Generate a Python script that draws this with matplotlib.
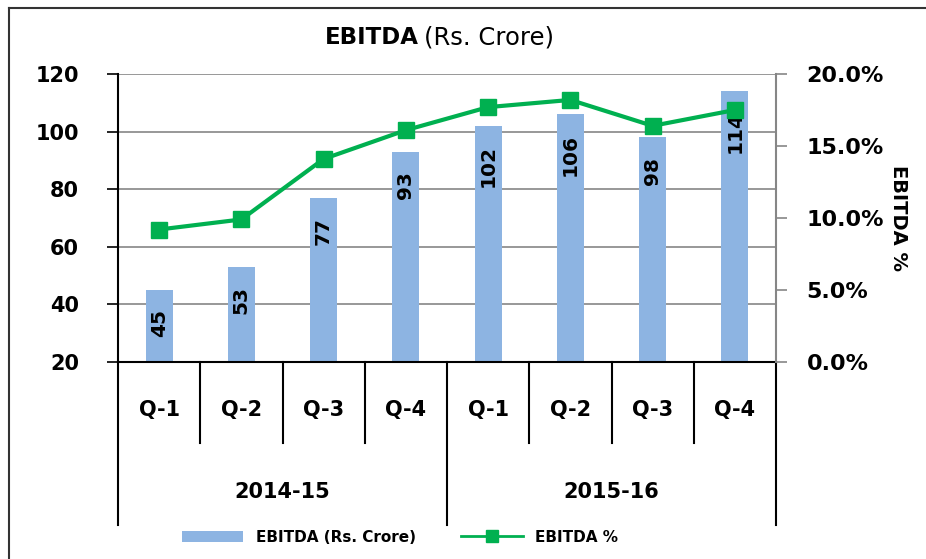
import matplotlib.pyplot as plt
import matplotlib.transforms as mtransforms
from matplotlib.lines import Line2D
from matplotlib.patches import Patch

# valores
trimestres = ["Q-1", "Q-2", "Q-3", "Q-4", "Q-1", "Q-2", "Q-3", "Q-4"]
anos = ["2014-15", "2015-16"]
ebitda = [45, 53, 77, 93, 102, 106, 98, 114]
ebitda_pct = [9.2, 9.9, 14.1, 16.1, 17.7, 18.2, 16.4, 17.5]

cor_barra = "#8DB4E2"
cor_linha = "#00B050"
cinza = "#868686"

plt.rcParams['font.family'] = ['DejaVu Sans']

fig = plt.figure(figsize=(9.26, 5.59), dpi=100)
W, H = 926, 559
ax = fig.add_axes([118 / W, 1 - 362 / H, (776 - 118) / W, (362 - 74) / H])
ax2 = ax.twinx()

x = list(range(len(ebitda)))

# barras
ax.bar(x, ebitda, width=0.33, color=cor_barra, zorder=2)
ax.set_xlim(-0.5, len(ebitda) - 0.5)
ax.set_ylim(20, 120)
ax.set_yticks([20, 40, 60, 80, 100, 120])
ax.yaxis.grid(True, color=cinza, linewidth=1.2, zorder=0)
ax.set_axisbelow(True)
ax.set_xticks([])
ax.tick_params(axis='y', direction='out', length=8, width=1.2, labelsize=15, pad=20)
for lbl in ax.get_yticklabels():
    lbl.set_fontweight('bold')

ax.spines['top'].set_visible(False)
ax.spines['right'].set_visible(False)
ax.spines['left'].set_linewidth(1.5)
ax.spines['bottom'].set_linewidth(1.5)

# rotulos dentro das barras
off = mtransforms.offset_copy(ax.transData, fig=fig, x=0, y=-14, units='points')
for xi, v in zip(x, ebitda):
    ax.text(xi, v, str(v), rotation=90, ha='center', va='top', transform=off,
            fontsize=14.5, fontweight='bold', zorder=5)

# linha de porcentagem
ax2.plot(x, ebitda_pct, color=cor_linha, linewidth=3, marker='s', markersize=12, zorder=4)
ax2.set_ylim(0, 20)
ax2.set_yticks([0, 5, 10, 15, 20])
ax2.set_yticklabels([f"{v:.1f}%" for v in [0, 5, 10, 15, 20]])
ax2.tick_params(axis='y', direction='out', length=8, width=1.2, color=cinza, labelsize=16, pad=14)
for lbl in ax2.get_yticklabels():
    lbl.set_fontweight('bold')
for s in ['top', 'left', 'bottom']:
    ax2.spines[s].set_visible(False)
ax2.spines['right'].set_color(cinza)
ax2.spines['right'].set_linewidth(1.5)
ax2.set_ylabel("EBITDA %", rotation=-90, fontsize=14, fontweight='bold', labelpad=17)

# eixo de categorias em dois niveis
trans = mtransforms.blended_transform_factory(ax.transData, fig.transFigure)
y0 = 1 - 362 / H
y_q = 1 - 443 / H
y_ano = 1 - 525 / H
for i in range(len(x) + 1):
    xs = i - 0.5
    fundo = y_ano if i % 4 == 0 else y_q
    ax.add_line(Line2D([xs, xs], [y0, fundo], transform=trans, color='black',
                       linewidth=1.5, clip_on=False))
for xi, t in zip(x, trimestres):
    ax.text(xi, 1 - 410 / H, t, transform=trans, ha='center', va='center',
            fontsize=15, fontweight='bold')
for k, ano in enumerate(anos):
    ax.text(4 * k + 1.5, 1 - 492 / H, ano, transform=trans, ha='center', va='center',
            fontsize=15, fontweight='bold')

# titulo
fig.text(419 / W, 1 - 37 / H, "EBITDA", ha='right', va='center', fontsize=16.5, fontweight='bold')
fig.text(424 / W, 1 - 37 / H, "(Rs. Crore)", ha='left', va='center', fontsize=17.5)

# legenda
handles = [Patch(facecolor=cor_barra, edgecolor='none'),
           Line2D([0], [0], color=cor_linha, linewidth=2, marker='s', markersize=8)]
fig.legend(handles, ["EBITDA (Rs. Crore)", "EBITDA %"], loc='center',
           bbox_to_anchor=(400 / W, 1 - 537 / H), ncol=2, frameon=False,
           prop={'weight': 'bold', 'size': 11}, handlelength=4, columnspacing=3)

# borda do grafico
fig.add_artist(Line2D([9 / W, 9 / W], [-0.01, 1 - 8 / H], color='#333333', linewidth=1.5))
fig.add_artist(Line2D([9 / W, 1.01], [1 - 8 / H, 1 - 8 / H], color='#333333', linewidth=1.5))

fig.savefig("out.png", dpi=100)
